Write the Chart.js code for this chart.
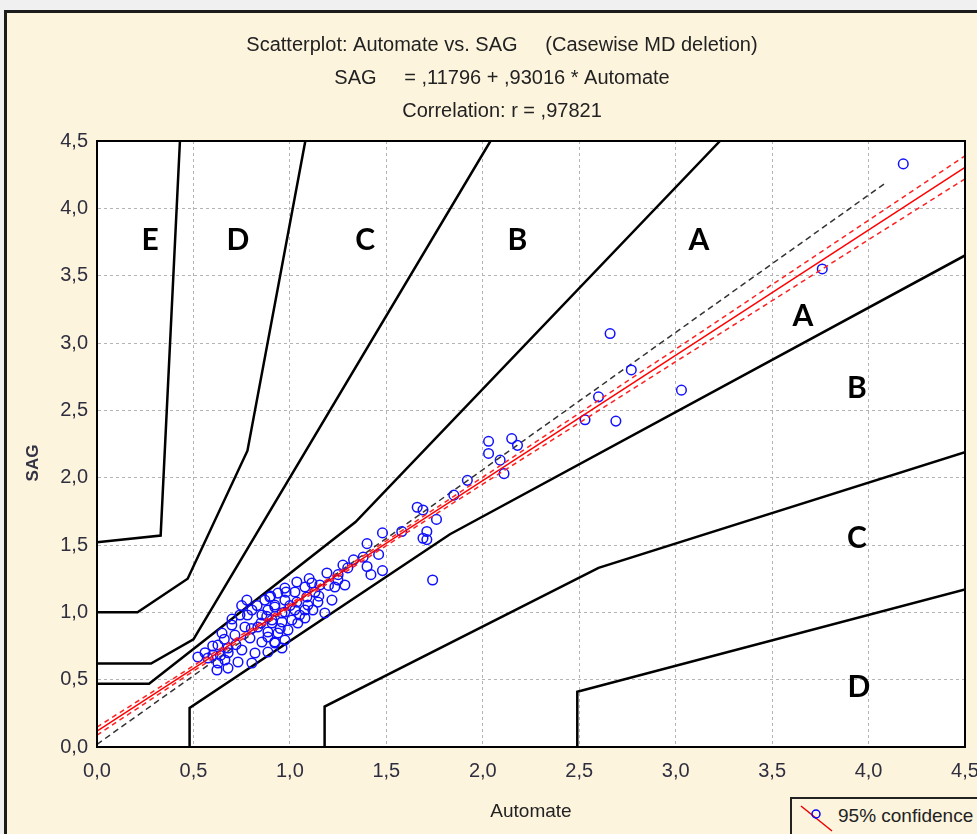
<!DOCTYPE html>
<html>
<head>
<meta charset="utf-8">
<script src="https://cdn.jsdelivr.net/npm/chart.js@4"></script>
<style>
  html, body { margin: 0; padding: 0; background: #f0f0f0; width: 977px; height: 834px; overflow: hidden; }
  #frame { position: absolute; left: 4px; top: 10px; width: 1000px; height: 900px; border: 3px solid #1c1c1c; background: #fdf4de; }
  #c { position: absolute; left: 0; top: 0; }
  #legend { position: absolute; left: 790px; top: 797px; width: 220px; height: 40px; border: 2px solid #222; background: #fdf4de;
            font-family: "Liberation Sans", Arial, sans-serif; font-size: 19px; color: #222; }
  #legend svg { position: absolute; left: 4px; top: 2px; }
  #legend span { position: absolute; left: 46px; top: 6px; white-space: nowrap; }
</style>
</head>
<body>
<div id="frame"></div>
<canvas id="c" width="977" height="834"></canvas>
<div id="legend"><svg width="40" height="34"><line x1="5" y1="5" x2="36" y2="30" stroke="#e00" stroke-width="1.5"/><circle cx="20" cy="13" r="4" fill="none" stroke="#0000ff" stroke-width="1.5"/></svg><span>95% confidence</span></div>
<script>
// ---- data ----
const titleLines = ["Scatterplot: Automate vs. SAG     (Casewise MD deletion)", "SAG     = ,11796 + ,93016 * Automate", "Correlation: r = ,97821"];
const xTickLabels = ["0,0","0,5","1,0","1,5","2,0","2,5","3,0","3,5","4,0","4,5"];
const yTickLabels = ["0,0","0,5","1,0","1,5","2,0","2,5","3,0","3,5","4,0","4,5"];
const xTitle = "Automate";
const yTitle = "SAG";

const pointsX = [4.18,3.76,2.66,2.77,2.60,3.03,2.69,2.53,2.03,2.03,2.15,2.18,2.09,2.11,1.92,1.85,
  1.66,1.69,1.76,1.71,1.69,1.71,1.58,1.48,1.40,1.46,1.33,1.38,1.40,1.42,1.48,1.74,1.30,
  0.777,0.870,0.922,0.803,0.741,0.855,0.907,0.959,0.699,0.767,0.834,0.886,0.648,0.715,0.793,0.855,0.922,
  0.627,0.679,0.751,0.819,0.886,0.959,0.601,0.663,0.731,0.803,0.523,0.575,0.627,0.679,0.622,
  1.275,1.192,1.249,1.285,1.233,1.155,1.114,1.130,1.078,1.088,1.036,1.026,0.974,0.938,0.896,0.974,1.036,1.093,1.145,1.181,
  1.078,1.026,0.974,0.922,0.886,0.959,1.010,1.041,0.907,0.938,0.990,0.886,0.922,0.974,1.078,1.119,1.218,
  0.70,0.75,0.66,0.72,0.85,0.95,0.80,0.88,1.00,1.05,0.60,0.68,0.78,0.83,0.90,0.98,1.15,1.20,1.10,1.25,0.56,0.64];
const pointsY = [4.33,3.55,3.07,2.80,2.60,2.65,2.42,2.43,2.27,2.18,2.29,2.24,2.13,2.03,1.98,1.87,
  1.78,1.76,1.69,1.60,1.55,1.54,1.60,1.59,1.51,1.43,1.39,1.41,1.34,1.28,1.31,1.24,1.33,
  1.091,1.091,1.054,1.017,0.980,0.980,0.943,0.995,0.906,0.891,0.891,0.854,0.846,0.831,0.809,0.780,0.780,
  0.757,0.735,0.720,0.698,0.705,0.735,0.683,0.646,0.631,0.624,0.668,0.661,0.624,0.586,0.572,
  1.351,1.292,1.240,1.203,1.188,1.203,1.218,1.151,1.188,1.114,1.225,1.151,1.180,1.143,1.114,1.091,1.076,1.054,1.076,0.995,
  1.017,1.017,1.002,1.039,1.017,0.928,0.943,0.921,0.921,0.846,0.869,0.817,0.772,0.794,0.958,1.017,1.091,
  0.95,1.05,0.80,0.76,0.92,0.88,0.88,0.97,1.05,0.98,0.75,0.70,0.98,1.05,1.12,1.15,1.12,1.20,1.25,1.28,0.70,0.68];

// regression line and 95% confidence band
const regX = [0, 4.5];
const regY = [0.118, 4.304];
const bandX = [0, 0.5, 1.0, 1.5, 2.0, 2.5, 3.0, 3.5, 4.0, 4.5];
const bandUpper = [0.148, 0.603, 1.063, 1.531, 2.004, 2.479, 2.955, 3.434, 3.911, 4.389];
const bandLower = [0.088, 0.563, 1.033, 1.495, 1.952, 2.407, 2.861, 3.314, 3.767, 4.219];
// black dashed reference line
const refX = [0, 4.08];
const refY = [0.02, 4.18];

// error-grid zone boundaries
const zoneUpperE_X = [0, 0.33, 0.43];  const zoneUpperE_Y = [1.52, 1.57, 4.5];
const zoneUpperD_X = [0, 0.21, 0.47, 0.78, 1.08];  const zoneUpperD_Y = [1.0, 1.0, 1.25, 2.2, 4.5];
const zoneUpperC_X = [0, 0.28, 0.5, 2.04];  const zoneUpperC_Y = [0.62, 0.62, 0.8, 4.5];
const zoneUpperB_X = [0, 0.27, 1.34, 3.23];  const zoneUpperB_Y = [0.47, 0.47, 1.67, 4.5];
const zoneLowerB_X = [0.48, 0.48, 1.83, 4.5];  const zoneLowerB_Y = [0, 0.29, 1.58, 3.65];
const zoneLowerC_X = [1.18, 1.18, 2.6, 4.5];  const zoneLowerC_Y = [0, 0.3, 1.33, 2.19];
const zoneLowerD_X = [2.49, 2.49, 4.5];  const zoneLowerD_Y = [0, 0.41, 1.17];

const zoneLabels = ["E","D","C","B","A","A","B","C","D"];
const zoneLabelX = [0.275, 0.73, 1.39, 2.18, 3.12, 3.66, 3.94, 3.94, 3.95];
const zoneLabelY = [3.76, 3.76, 3.76, 3.76, 3.76, 3.20, 2.66, 1.55, 0.44];

// ---- build ----
const zip = (xs, ys) => xs.map((x, i) => ({x: x, y: ys[i]}));
const zoneLine = (xs, ys) => ({type: 'line', data: zip(xs, ys), borderColor: '#000', borderWidth: 2.5, pointRadius: 0, fill: false, tension: 0, order: 5});

const SANS = '"Liberation Sans", Arial, sans-serif';

const bgPlugin = {
  id: 'bg',
  beforeDraw(chart) {
    const {ctx, chartArea: a} = chart;
    ctx.save();
    ctx.fillStyle = '#ffffff';
    ctx.fillRect(a.left, a.top, a.right - a.left, a.bottom - a.top);
    ctx.restore();
  },
  afterDraw(chart) {
    const {ctx, chartArea: a, scales} = chart;
    ctx.save();
    ctx.strokeStyle = '#000';
    ctx.lineWidth = 2;
    ctx.strokeRect(a.left, a.top, a.right - a.left, a.bottom - a.top);
    // zone letters
    ctx.fillStyle = '#000';
    ctx.font = 'bold 30px Lato, "Liberation Sans", sans-serif';
    ctx.textAlign = 'center';
    ctx.textBaseline = 'middle';
    zoneLabels.forEach((t, i) => {
      ctx.fillText(t, scales.x.getPixelForValue(zoneLabelX[i]), scales.y.getPixelForValue(zoneLabelY[i]));
    });
    // y axis title
    ctx.fillStyle = '#333344';
    ctx.font = 'bold 17px ' + SANS;
    ctx.translate(33, (a.top + a.bottom) / 2 + 19);
    ctx.rotate(-Math.PI / 2);
    ctx.fillText(yTitle, 0, 0);
    ctx.restore();
  }
};

new Chart(document.getElementById('c'), {
  type: 'scatter',
  data: {
    datasets: [
      {type: 'line', data: zip(regX, regY), borderColor: '#ff0000', borderWidth: 1.5, pointRadius: 0, fill: false, order: 0},
      {type: 'line', data: zip(bandX, bandUpper), borderColor: '#ff2020', borderWidth: 1.5, borderDash: [5, 4], pointRadius: 0, fill: false, order: 1},
      {type: 'line', data: zip(bandX, bandLower), borderColor: '#ff2020', borderWidth: 1.5, borderDash: [5, 4], pointRadius: 0, fill: false, order: 1},
      {type: 'scatter', data: zip(pointsX, pointsY), borderColor: '#1010ff', backgroundColor: 'rgba(0,0,0,0)', borderWidth: 1.5, pointRadius: 4.8, order: 2},
      {type: 'line', data: zip(refX, refY), borderColor: '#333', borderWidth: 1.5, borderDash: [6, 4], pointRadius: 0, fill: false, order: 3},
      zoneLine(zoneUpperE_X, zoneUpperE_Y),
      zoneLine(zoneUpperD_X, zoneUpperD_Y),
      zoneLine(zoneUpperC_X, zoneUpperC_Y),
      zoneLine(zoneUpperB_X, zoneUpperB_Y),
      zoneLine(zoneLowerB_X, zoneLowerB_Y),
      zoneLine(zoneLowerC_X, zoneLowerC_Y),
      zoneLine(zoneLowerD_X, zoneLowerD_Y)
    ]
  },
  options: {
    responsive: false,
    animation: false,
    devicePixelRatio: 1,
    layout: {padding: {left: 39, right: 12, top: 0, bottom: 0}},
    plugins: {
      legend: {display: false},
      tooltip: {enabled: false},
      title: {
        display: true,
        text: titleLines,
        color: '#222',
        font: {family: SANS, size: 20, weight: 'normal', lineHeight: 33 / 20},
        padding: {top: 28.5, bottom: 13.5}
      }
    },
    scales: {
      x: {
        type: 'linear', min: 0, max: 4.5,
        ticks: {stepSize: 0.5, padding: 12, color: '#2e2e3e', font: {family: SANS, size: 20},
                callback: (v, i) => xTickLabels[i]},
        grid: {color: '#b4b4b4', lineWidth: 1, drawTicks: false},
        border: {display: true, color: '#000', width: 2, dash: [3, 3]},
        title: {display: true, text: xTitle, color: '#222', font: {family: SANS, size: 19}, padding: {top: 0, bottom: 11}},
        afterFit: s => { s.height = 87; s.paddingLeft = 0; s.paddingRight = 0; }
      },
      y: {
        type: 'linear', min: 0, max: 4.5,
        ticks: {stepSize: 0.5, padding: 9, color: '#2e2e3e', font: {family: SANS, size: 20},
                callback: (v, i) => yTickLabels[i]},
        grid: {color: '#b4b4b4', lineWidth: 1, drawTicks: false},
        border: {display: true, color: '#000', width: 2, dash: [3, 3]},
        title: {display: false, text: yTitle},
        afterFit: s => { s.width = 58; s.paddingTop = 0; s.paddingBottom = 0; }
      }
    }
  },
  plugins: [bgPlugin]
});
</script>
</body>
</html>
